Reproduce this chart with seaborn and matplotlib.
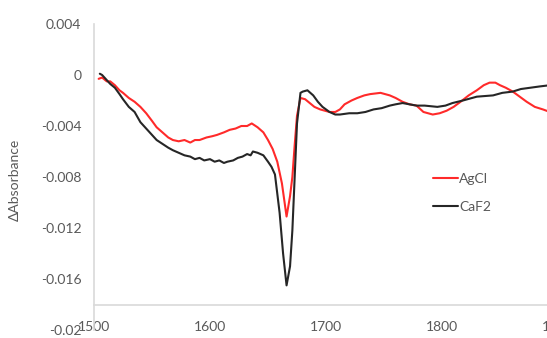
import numpy as np
import pandas as pd
import matplotlib
matplotlib.use('Agg')
import matplotlib.pyplot as plt
import seaborn as sns

# AgCl spectrum (wavenumber, delta absorbance)
agcl_x = [1504, 1507, 1511, 1514, 1518, 1522, 1525, 1530, 1535, 1540, 1545, 1550,
          1554, 1559, 1564, 1568, 1573, 1578, 1583, 1587, 1591, 1597, 1602, 1606,
          1612, 1617, 1622, 1627, 1632, 1636, 1641, 1646, 1650, 1654, 1658, 1662,
          1666, 1669, 1671, 1673, 1675, 1678, 1682, 1686, 1690, 1695, 1703, 1708,
          1712, 1716, 1722, 1727, 1733, 1738, 1747, 1755, 1760, 1766, 1772, 1778,
          1784, 1792, 1798, 1804, 1810, 1816, 1823, 1830, 1836, 1841, 1846, 1850,
          1855, 1861, 1867, 1873, 1880, 1887, 1893]
agcl_y = [-0.0003, -0.0002, -0.0005, -0.0005, -0.0008, -0.0012, -0.0014, -0.0018,
          -0.0021, -0.0025, -0.0030, -0.0036, -0.0041, -0.0045, -0.0049, -0.0051,
          -0.0052, -0.0051, -0.0053, -0.0051, -0.0051, -0.0049, -0.0048, -0.0047,
          -0.0045, -0.0043, -0.0042, -0.0040, -0.0040, -0.0038, -0.0041, -0.0045,
          -0.0051, -0.0058, -0.0068, -0.0085, -0.0111, -0.0095, -0.0080, -0.0055,
          -0.0032, -0.0018, -0.0019, -0.0022, -0.0025, -0.0027, -0.0029, -0.0029,
          -0.0027, -0.0023, -0.0020, -0.0018, -0.0016, -0.0015, -0.0014, -0.0016,
          -0.0018, -0.0021, -0.0023, -0.0024, -0.0029, -0.0031, -0.0030, -0.0028,
          -0.0025, -0.0021, -0.0016, -0.0012, -0.0008, -0.0006, -0.0006, -0.0008,
          -0.0010, -0.0013, -0.0017, -0.0021, -0.0025, -0.0027, -0.0029]

# CaF2 spectrum
caf2_x = [1505, 1507, 1511, 1514, 1518, 1522, 1525, 1530, 1535, 1540, 1545, 1550,
          1554, 1559, 1564, 1568, 1573, 1578, 1583, 1587, 1591, 1595, 1600, 1604,
          1608, 1612, 1615, 1620, 1624, 1628, 1632, 1635, 1637, 1641, 1646, 1650,
          1653, 1656, 1660, 1663, 1666, 1669, 1671, 1673, 1675, 1678, 1680, 1684,
          1689, 1693, 1697, 1703, 1708, 1712, 1720, 1727, 1734, 1741, 1748, 1755,
          1760, 1766, 1772, 1778, 1785, 1796, 1803, 1809, 1818, 1830, 1844, 1852,
          1861, 1868, 1876, 1884, 1893]
caf2_y = [0.0001, 0.0000, -0.0004, -0.0007, -0.0010, -0.0015, -0.0019, -0.0025,
          -0.0029, -0.0037, -0.0042, -0.0047, -0.0051, -0.0054, -0.0057, -0.0059,
          -0.0061, -0.0063, -0.0064, -0.0066, -0.0065, -0.0067, -0.0066, -0.0068,
          -0.0067, -0.0069, -0.0068, -0.0067, -0.0065, -0.0064, -0.0062, -0.0063,
          -0.0060, -0.0061, -0.0063, -0.0068, -0.0072, -0.0078, -0.0108, -0.0140,
          -0.0165, -0.0150, -0.0122, -0.0080, -0.0038, -0.0014, -0.0013, -0.0012,
          -0.0016, -0.0021, -0.0025, -0.0029, -0.0031, -0.0031, -0.0030, -0.0030,
          -0.0029, -0.0027, -0.0026, -0.0024, -0.0023, -0.0022, -0.0023, -0.0024,
          -0.0024, -0.0025, -0.0024, -0.0022, -0.0020, -0.0017, -0.0016, -0.0014,
          -0.0013, -0.0011, -0.0010, -0.0009, -0.0008]

x_ticks = [1500, 1600, 1700, 1800, 1900]
y_ticks = [-0.02, -0.016, -0.012, -0.008, -0.004, 0, 0.004]
y_tick_labels = ['-0.02', '-0.016', '-0.012', '-0.008', '-0.004', '0', '0.004']


def main():
    sns.set_theme(style='white')
    plt.rcParams['font.family'] = ['Lato', 'DejaVu Sans']
    text_col = '#595959'
    axis_col = '#d9d9d9'

    data = pd.concat([
        pd.DataFrame({'wn': agcl_x, 'dA': agcl_y, 'sample': 'AgCl'}),
        pd.DataFrame({'wn': caf2_x, 'dA': caf2_y, 'sample': 'CaF2'}),
    ])

    W, H = 547, 338
    fig = plt.figure(figsize=(W / 100, H / 100), dpi=100)
    ax = fig.add_axes([94 / W, 1 - 330 / H, 464 / W, 306 / H])

    sns.lineplot(data=data, x='wn', y='dA', hue='sample', sort=False,
                 palette={'AgCl': '#ff2a2a', 'CaF2': '#262626'},
                 linewidth=1.5, ax=ax)

    ax.set_xlim(1500, 1900)
    ax.set_ylim(-0.02, 0.004)
    ax.set_xticks(x_ticks)
    ax.set_yticks(y_ticks)
    ax.set_yticklabels(y_tick_labels)
    ax.set_xlabel('')
    ax.set_ylabel('')

    for side in ['top', 'right']:
        ax.spines[side].set_visible(False)
    # horizontal axis crosses at -0.018, as in the original
    ax.spines['bottom'].set_position(('data', -0.018))
    for side in ['left', 'bottom']:
        ax.spines[side].set_color(axis_col)
        ax.spines[side].set_linewidth(1.2)
    ax.tick_params(axis='both', which='major', direction='out', length=3.5,
                   width=1, color=axis_col, labelcolor=text_col, labelsize=10)
    ax.tick_params(axis='y', pad=5.5)
    ax.tick_params(axis='x', pad=8.5)

    fig.text(15 / W, 1 - 180 / H, 'ΔAbsorbance', rotation=90, ha='center',
             va='center', color=text_col, fontsize=10)

    ax.legend(frameon=False, loc='center left',
              bbox_to_anchor=(433 / W, 1 - 193 / H),
              bbox_transform=fig.transFigure, borderpad=0, borderaxespad=0,
              handlelength=1.8, handletextpad=0.1, labelspacing=1.15,
              fontsize=10, labelcolor=text_col)

    fig.savefig('out.png', dpi=100)
    plt.close('all')


if __name__ == '__main__':
    main()
